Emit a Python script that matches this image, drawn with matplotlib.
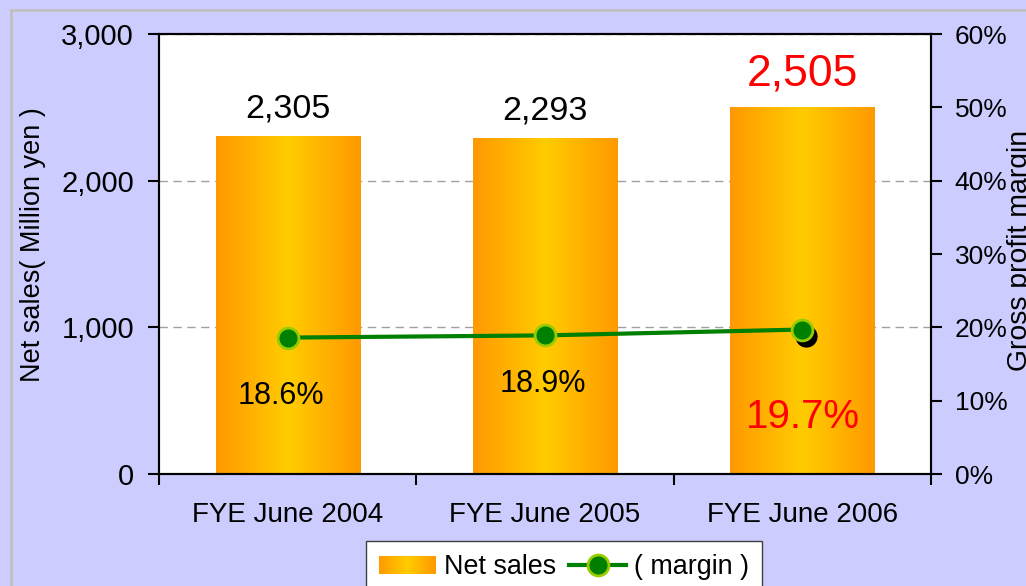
import numpy as np
import matplotlib
matplotlib.use('Agg')
import matplotlib.pyplot as plt
import matplotlib.transforms as mtransforms
from matplotlib.colors import LinearSegmentedColormap
from matplotlib.legend_handler import HandlerBase
from matplotlib.lines import Line2D
from matplotlib.patches import Rectangle

# =============================================================================
# Datos
# =============================================================================
periodos = ['FYE June 2004', 'FYE June 2005', 'FYE June 2006']
ventas = [2305, 2293, 2505]          # Net sales (Million yen)
margen = [18.6, 18.9, 19.7]          # Gross profit margin (%)
ticks_ventas = [0, 1000, 2000, 3000]
ticks_margen = [0, 10, 20, 30, 40, 50, 60]

# =============================================================================
# Estilo
# =============================================================================
plt.rcParams['font.family'] = ['Liberation Sans', 'DejaVu Sans']

FONDO = '#CCCCFF'
NARANJA = '#FF9900'
DORADO = '#FFCC00'
VERDE = '#008000'
cmap = LinearSegmentedColormap.from_list('barra', [NARANJA, DORADO, NARANJA])


class ManejadorDegradado(HandlerBase):
    """Dibuja el parche de la leyenda con degradado horizontal"""
    def create_artists(self, legend, orig_handle, xdescent, ydescent,
                       width, height, fontsize, trans):
        n = 30
        arts = []
        for i in range(n):
            r = Rectangle((-xdescent + width * i / n, -ydescent),
                          width / n * 1.05, height,
                          facecolor=cmap((i + 0.5) / n), edgecolor='none',
                          transform=trans)
            arts.append(r)
        return arts


# =============================================================================
# Figura
# =============================================================================
fig = plt.figure(figsize=(10.26, 5.86), dpi=100, facecolor=FONDO)
fig.add_artist(Rectangle((11 / 1026, -0.1), 1.2, 1 - 10 / 586 + 0.1,
                         transform=fig.transFigure, fill=False,
                         edgecolor='#C0C0C0', lw=2))

ax = fig.add_axes([159 / 1026, 112 / 586, 772 / 1026, 440 / 586])
ax.set_facecolor('white')

x = np.arange(len(periodos))
barras = ax.bar(x, ventas, width=0.56, color=DORADO, zorder=2)
degradado = np.linspace(0, 1, 256).reshape(1, -1)
for b in barras:
    img = ax.imshow(degradado, cmap=cmap, aspect='auto', zorder=2.1,
                    extent=[b.get_x(), b.get_x() + b.get_width(), 0, b.get_height()])
    img.set_clip_path(b)

ax.set_xlim(-0.5, 2.5)
ax.set_ylim(0, 3000)
ax.set_yticks(ticks_ventas)
ax.set_yticklabels([f'{v:,}' for v in ticks_ventas])
ax.set_xticks([-0.5, 0.5, 1.5, 2.5])
ax.set_xticklabels([])
ax.set_xticks(x, minor=True)
ax.set_xticklabels(periodos, minor=True)
ax.tick_params(axis='x', which='major', direction='out', length=8, width=1.5)
ax.tick_params(axis='x', which='minor', length=0, pad=20, labelsize=20)
ax.tick_params(axis='y', direction='out', length=8, width=1.5, pad=10,
               labelsize=21)
ax.yaxis.grid(True, linestyle=(0, (6, 4)), color='#A0A0A0', lw=1)
ax.set_axisbelow(True)
for s in ax.spines.values():
    s.set_color('black')
    s.set_linewidth(1.5)

# Etiquetas de ventas
desp_ventas = [13, 13, 15.5]
for i, (v, d) in enumerate(zip(ventas, desp_ventas)):
    rojo = i == len(ventas) - 1
    ax.annotate(f'{v:,}', (i, v), xytext=(0, d), textcoords='offset points',
                ha='center', va='baseline',
                color='#FF0000' if rojo else 'black',
                fontsize=32 if rojo else 24.5, zorder=5)

# Eje derecho: margen
ax2 = ax.twinx()
ax2.set_ylim(0, 60)
ax2.set_yticks(ticks_margen)
ax2.set_yticklabels([f'{v}%' for v in ticks_margen])
ax2.tick_params(axis='y', direction='out', length=8, width=1.5, pad=9,
                labelsize=19)
for s in ax2.spines.values():
    s.set_color('black')
    s.set_linewidth(1.5)

sombra = ax2.transData + mtransforms.ScaledTranslation(4 / 100, -6 / 100,
                                                       fig.dpi_scale_trans)
ax2.plot(x[-1], margen[-1], 'o', ms=15, color='black', transform=sombra, zorder=2.9)
ax2.plot(x, margen, color=VERDE, lw=3, marker='o', ms=15, mfc=VERDE,
         mec='#99CC00', mew=2, zorder=3)

desp_margen = [(-5, -47.5), (-1.5, -41), (0.7, -71)]
for i, (m, d) in enumerate(zip(margen, desp_margen)):
    rojo = i == len(margen) - 1
    ax2.annotate(f'{m}%', (i, m), xytext=d, textcoords='offset points',
                 ha='center', va='baseline',
                 color='#FF0000' if rojo else 'black',
                 fontsize=29 if rojo else 22, zorder=5)

# Títulos de ejes
fig.text(20 / 1026, 1 - 245 / 586, 'Net sales( Million yen )', rotation=90,
         ha='left', va='center', fontsize=19.5)
fig.text(1007 / 1026, 1 - 250 / 586, 'Gross profit margin', rotation=90,
         ha='left', va='center', fontsize=20.4)

# Leyenda
proxy_barra = Rectangle((0, 0), 1, 1, facecolor=DORADO)
proxy_linea = Line2D([], [], color=VERDE, lw=3, marker='o', ms=15, mfc=VERDE,
                     mec='#99CC00', mew=2)
leg = fig.legend([proxy_barra, proxy_linea], ['Net sales', '( margin )'],
                 handler_map={Rectangle: ManejadorDegradado()},
                 loc='upper center', bbox_to_anchor=(564 / 1026, 1 - 541 / 586),
                 ncol=2, frameon=True, fancybox=False, edgecolor='#404040',
                 framealpha=1, fontsize=19.4, handlelength=2.1,
                 handletextpad=0.3, columnspacing=0.5, borderpad=0.5,
                 borderaxespad=0)
leg.get_frame().set_linewidth(1)

plt.savefig('out.png', dpi=100, facecolor=FONDO)
